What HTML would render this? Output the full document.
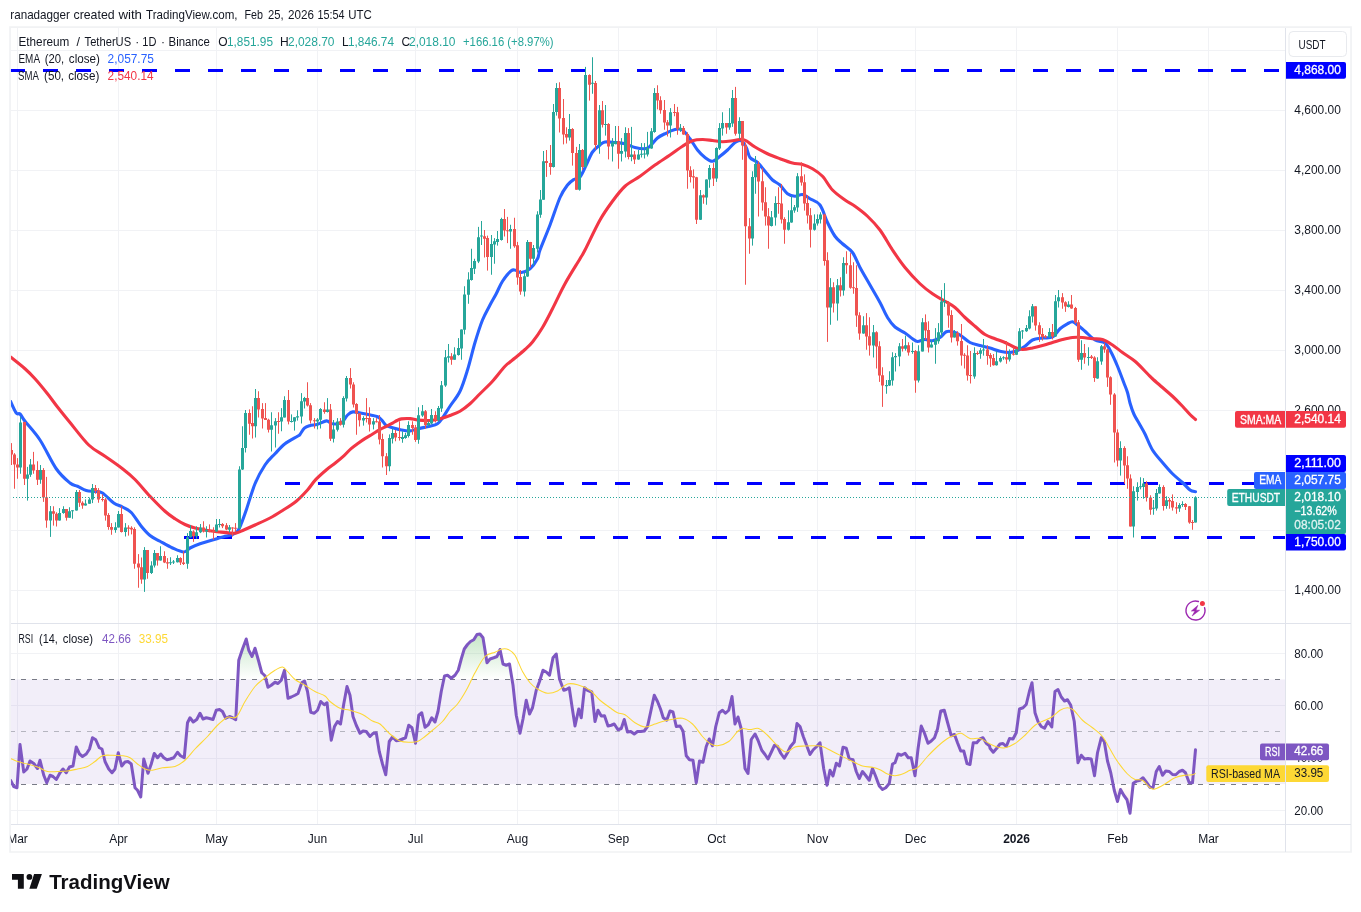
<!DOCTYPE html><html><head><meta charset="utf-8"><title>ETHUSDT chart</title>
<style>html,body{margin:0;padding:0;background:#fff;}svg{display:block}text{font-family:"Liberation Sans", "DejaVu Sans", sans-serif;}</style></head><body>
<svg width="1361" height="912" viewBox="0 0 1361 912">
<defs>
<clipPath id="cm"><rect x="10.5" y="27.5" width="1275" height="596"/></clipPath>
<clipPath id="cr"><rect x="10.5" y="624" width="1275" height="200"/></clipPath>
<clipPath id="ct"><rect x="10.5" y="824" width="1275" height="28"/></clipPath>
<linearGradient id="gg" x1="0" y1="0" x2="0" y2="1" gradientUnits="userSpaceOnUse"><stop offset="0" stop-color="#4caf50" stop-opacity="1"/><stop offset="1" stop-color="#4caf50" stop-opacity="0"/></linearGradient>
</defs>
<rect width="1361" height="912" fill="#fff"/>
<path d="M17.5 28V824M118.5 28V824M216.5 28V824M317.5 28V824M415.5 28V824M517.5 28V824M618.5 28V824M716.5 28V824M817.5 28V824M915.5 28V824M1016.5 28V824M1117.5 28V824M1208.5 28V824M11 50.5H1285M11 110.5H1285M11 170.5H1285M11 230.5H1285M11 290.5H1285M11 350.5H1285M11 410.5H1285M11 470.5H1285M11 530.5H1285M11 590.5H1285M11 653.5H1285M11 705.5H1285M11 758.5H1285M11 810.5H1285" stroke="#f1f2f5" stroke-width="1" fill="none"/>
<g clip-path="url(#cm)">
<path d="M10 70.5H1285" stroke="#0000ff" stroke-width="3" stroke-dasharray="15 18" fill="none"/>
<path d="M285 483.5H1285" stroke="#0000ff" stroke-width="3" stroke-dasharray="15 18" fill="none"/>
<path d="M184 537.5H1285" stroke="#0000ff" stroke-width="3" stroke-dasharray="15 18" fill="none"/>
<path d="M10.5 401.25C11.46 403.21 14.67 410.88 16.25 413C17.83 415.12 18.54 412.62 20 414C21.46 415.38 21.67 416.92 25 421.25C28.33 425.58 34.79 432.08 40 440C45.21 447.92 51.25 461.58 56.25 468.75C61.25 475.92 66.46 480.08 70 483C73.54 485.92 74.79 485 77.5 486.25C80.21 487.5 83.33 489.62 86.25 490.5C89.17 491.38 92.29 491.08 95 491.5C97.71 491.92 99.38 491.08 102.5 493C105.62 494.92 110.42 500.67 113.75 503C117.08 505.33 119.58 505.42 122.5 507C125.42 508.58 128.12 509.29 131.25 512.5C134.38 515.71 138.12 522.42 141.25 526.25C144.38 530.08 146.88 533 150 535.5C153.12 538 156.25 539.17 160 541.25C163.75 543.33 168.54 546.21 172.5 548C176.46 549.79 180.83 552 183.75 552C186.67 552 187.29 549.38 190 548C192.71 546.62 196.25 545.08 200 543.75C203.75 542.42 208.33 541.25 212.5 540C216.67 538.75 221.67 537.17 225 536.25C228.33 535.33 230.42 535.33 232.5 534.5C234.58 533.67 236.04 533.04 237.5 531.25C238.96 529.46 239.79 527.29 241.25 523.75C242.71 520.21 243.96 516.67 246.25 510C248.54 503.33 251.88 491.25 255 483.75C258.12 476.25 261.67 470 265 465C268.33 460 271.67 457.29 275 453.75C278.33 450.21 281.25 446.67 285 443.75C288.75 440.83 295 437.81 297.5 436.25C300 434.69 298.85 435.74 300 434.4C301.15 433.06 302.78 429.65 304.4 428.2C306.02 426.75 307.5 426.37 309.7 425.7C311.9 425.03 314.8 425 317.6 424.2C320.4 423.4 324.28 421.03 326.5 420.9C328.72 420.77 329.32 422.88 330.9 423.4C332.48 423.92 334.1 424.23 336 424C337.9 423.77 340.37 423.5 342.3 422C344.23 420.5 345.83 416.68 347.6 415C349.37 413.32 350.55 412.2 352.9 411.9C355.25 411.6 358.77 412.68 361.7 413.2C364.63 413.72 367.85 414.41 370.5 415C373.15 415.59 375.68 415.87 377.6 416.75C379.52 417.63 380.53 418.82 382 420.3C383.47 421.78 384.63 424.35 386.4 425.6C388.17 426.85 390.1 427.07 392.6 427.8C395.1 428.53 398.47 429.48 401.4 430C404.33 430.52 407.52 431.11 410.2 430.9C412.88 430.69 414.2 429.52 417.5 428.75C420.8 427.98 426.67 427.08 430 426.25C433.33 425.42 435.42 425.12 437.5 423.75C439.58 422.38 440.42 420.92 442.5 418C444.58 415.08 447.08 410.71 450 406.25C452.92 401.79 457.08 397.29 460 391.25C462.92 385.21 465 378.12 467.5 370C470 361.88 472.5 350.83 475 342.5C477.5 334.17 480 326.25 482.5 320C485 313.75 487.71 309.38 490 305C492.29 300.62 494.17 297.71 496.25 293.75C498.33 289.79 500 285.08 502.5 281.25C505 277.42 508.96 272.54 511.25 270.75C513.54 268.96 514.58 270.21 516.25 270.5C517.92 270.79 518.96 272.79 521.25 272.5C523.54 272.21 527.29 271.04 530 268.75C532.71 266.46 535.83 261.88 537.5 258.75C539.17 255.62 537.92 255.62 540 250C542.08 244.38 546.67 233.75 550 225C553.33 216.25 557.08 204.17 560 197.5C562.92 190.83 565.21 188 567.5 185C569.79 182 571.67 180.83 573.75 179.5C575.83 178.17 577.92 179.42 580 177C582.08 174.58 584.17 169.17 586.25 165C588.33 160.83 590.21 155.33 592.5 152C594.79 148.67 597.92 146.67 600 145C602.08 143.33 602.5 142.42 605 142C607.5 141.58 611.67 142.21 615 142.5C618.33 142.79 621.67 142.92 625 143.75C628.33 144.58 631.67 146.67 635 147.5C638.33 148.33 642.5 148.96 645 148.75C647.5 148.54 647.92 148.04 650 146.25C652.08 144.46 655 140.08 657.5 138C660 135.92 662.08 135.17 665 133.75C667.92 132.33 672.08 130.12 675 129.5C677.92 128.88 680 128.46 682.5 130C685 131.54 687.5 135.42 690 138.75C692.5 142.08 695 146.88 697.5 150C700 153.12 702.5 155.62 705 157.5C707.5 159.38 710 161.46 712.5 161.25C715 161.04 717.5 158.12 720 156.25C722.5 154.38 725 152.29 727.5 150C730 147.71 732.71 144.04 735 142.5C737.29 140.96 739.38 139.92 741.25 140.75C743.12 141.58 744.79 144.71 746.25 147.5C747.71 150.29 748.12 155 750 157.5C751.88 160 755 160.21 757.5 162.5C760 164.79 762.5 168.33 765 171.25C767.5 174.17 770 177.71 772.5 180C775 182.29 777.5 182.71 780 185C782.5 187.29 785 191.88 787.5 193.75C790 195.62 792.5 196.12 795 196.25C797.5 196.38 800 194.08 802.5 194.5C805 194.92 807.08 197 810 198.75C812.92 200.5 817.08 201.04 820 205C822.92 208.96 825 217.29 827.5 222.5C830 227.71 832.5 232.71 835 236.25C837.5 239.79 839.58 241.04 842.5 243.75C845.42 246.46 849.58 248.54 852.5 252.5C855.42 256.46 857.08 262.08 860 267.5C862.92 272.92 866.67 279.17 870 285C873.33 290.83 877.08 297.08 880 302.5C882.92 307.92 885 313.42 887.5 317.5C890 321.58 892.08 324.42 895 327C897.92 329.58 902.08 331.04 905 333C907.92 334.96 910.42 337.33 912.5 338.75C914.58 340.17 915.42 341.38 917.5 341.5C919.58 341.62 922.5 339.62 925 339.5C927.5 339.38 930 341.08 932.5 340.75C935 340.42 937.71 339 940 337.5C942.29 336 944.17 332.71 946.25 331.75C948.33 330.79 950.21 331.21 952.5 331.75C954.79 332.29 957.08 333.21 960 335C962.92 336.79 966.67 340.75 970 342.5C973.33 344.25 976.67 344.58 980 345.5C983.33 346.42 986.67 347.04 990 348C993.33 348.96 996.67 350.5 1000 351.25C1003.33 352 1007.08 352.62 1010 352.5C1012.92 352.38 1015 351.54 1017.5 350.5C1020 349.46 1022.5 348 1025 346.25C1027.5 344.5 1029.58 341.38 1032.5 340C1035.42 338.62 1039.17 338.5 1042.5 338C1045.83 337.5 1049.58 338.54 1052.5 337C1055.42 335.46 1057.5 330.96 1060 328.75C1062.5 326.54 1065.42 324.92 1067.5 323.75C1069.58 322.58 1070.83 321.54 1072.5 321.75C1074.17 321.96 1075.42 323.42 1077.5 325C1079.58 326.58 1082.08 328.75 1085 331.25C1087.92 333.75 1091.67 338.02 1095 340C1098.33 341.98 1102.29 341.02 1105 343.1C1107.71 345.18 1109.17 348.64 1111.25 352.5C1113.33 356.36 1115.42 361.25 1117.5 366.25C1119.58 371.25 1122.08 378.12 1123.75 382.5C1125.42 386.88 1126.46 389.08 1127.5 392.5C1128.54 395.92 1128.96 399.46 1130 403C1131.04 406.54 1132.08 410.08 1133.75 413.75C1135.42 417.42 1138.12 421.62 1140 425C1141.88 428.38 1142.92 429.83 1145 434C1147.08 438.17 1149.58 445.25 1152.5 450C1155.42 454.75 1159.17 458.54 1162.5 462.5C1165.83 466.46 1169.17 470.42 1172.5 473.75C1175.83 477.08 1179.58 479.79 1182.5 482.5C1185.42 485.21 1187.83 488.46 1190 490C1192.17 491.54 1194.58 491.46 1195.5 491.75" stroke="#2962ff" stroke-width="3.1" fill="none" stroke-linejoin="round" stroke-linecap="round"/>
<path d="M10.5 357C12.92 358.96 20.92 365.12 25 368.75C29.08 372.38 31.25 374.58 35 378.75C38.75 382.92 43.75 389.04 47.5 393.75C51.25 398.46 53.75 402.21 57.5 407C61.25 411.79 64.79 416.17 70 422.5C75.21 428.83 82.92 439.38 88.75 445C94.58 450.62 99.38 452.29 105 456.25C110.62 460.21 117.5 464.88 122.5 468.75C127.5 472.62 130.42 474.92 135 479.5C139.58 484.08 145 490.96 150 496.25C155 501.54 160.83 507.5 165 511.25C169.17 515 171.67 516.54 175 518.75C178.33 520.96 181.67 522.96 185 524.5C188.33 526.04 191.25 527 195 528C198.75 529 203.33 529.83 207.5 530.5C211.67 531.17 216.25 531.58 220 532C223.75 532.42 227.29 532.83 230 533C232.71 533.17 233.96 533.5 236.25 533C238.54 532.5 240.62 531.33 243.75 530C246.88 528.67 250.62 527 255 525C259.38 523 265.42 520.42 270 518C274.58 515.58 278.12 513.29 282.5 510.5C286.88 507.71 292.08 504.67 296.25 501.25C300.42 497.83 304.23 493.64 307.5 490C310.77 486.36 312.73 482.78 315.9 479.4C319.07 476.02 323.27 472.43 326.5 469.7C329.73 466.97 332.37 465.35 335.3 463C338.23 460.65 341.47 458 344.1 455.6C346.73 453.2 348.75 450.67 351.1 448.6C353.45 446.53 355.83 444.9 358.2 443.2C360.57 441.5 362.95 439.9 365.3 438.4C367.65 436.9 369.95 435.63 372.3 434.2C374.65 432.77 377.05 431.12 379.4 429.8C381.75 428.48 384.2 427.4 386.4 426.3C388.6 425.2 390.83 424.17 392.6 423.2C394.37 422.23 395.53 421.22 397 420.5C398.47 419.78 399.2 419.22 401.4 418.9C403.6 418.58 407.4 418.4 410.2 418.6C413 418.8 414.9 419.78 418.2 420.1C421.5 420.42 426.37 420.73 430 420.5C433.63 420.27 436.67 419.58 440 418.75C443.33 417.92 446.67 416.75 450 415.5C453.33 414.25 456.67 413.21 460 411.25C463.33 409.29 466.67 406.67 470 403.75C473.33 400.83 476.25 397.5 480 393.75C483.75 390 488.33 385.83 492.5 381.25C496.67 376.67 501.25 370.12 505 366.25C508.75 362.38 511.67 360.79 515 358C518.33 355.21 522.08 352.17 525 349.5C527.92 346.83 529.58 345.67 532.5 342C535.42 338.33 539.17 333.04 542.5 327.5C545.83 321.96 548.75 316.04 552.5 308.75C556.25 301.46 560.42 292.08 565 283.75C569.58 275.42 576.67 264.38 580 258.75C583.33 253.12 581.67 256.46 585 250C588.33 243.54 595.42 228.12 600 220C604.58 211.88 608.33 206.88 612.5 201.25C616.67 195.62 620.42 190.42 625 186.25C629.58 182.08 635 179.79 640 176.25C645 172.71 650 168.54 655 165C660 161.46 665.42 158.12 670 155C674.58 151.88 678.75 148.62 682.5 146.25C686.25 143.88 689.17 141.88 692.5 140.75C695.83 139.62 699.17 139.54 702.5 139.5C705.83 139.46 709.17 140.12 712.5 140.5C715.83 140.88 719.17 141.71 722.5 141.75C725.83 141.79 729.38 141.17 732.5 140.75C735.62 140.33 738.96 139.25 741.25 139.25C743.54 139.25 743.96 139.46 746.25 140.75C748.54 142.04 751.46 144.83 755 147C758.54 149.17 763.33 151.79 767.5 153.75C771.67 155.71 775.83 157.21 780 158.75C784.17 160.29 788.75 162.04 792.5 163C796.25 163.96 799.17 163.54 802.5 164.5C805.83 165.46 809.17 166.79 812.5 168.75C815.83 170.71 819.17 172.71 822.5 176.25C825.83 179.79 828.75 186.04 832.5 190C836.25 193.96 841.25 197.29 845 200C848.75 202.71 851.25 203.54 855 206.25C858.75 208.96 863.33 212.29 867.5 216.25C871.67 220.21 875.83 224.38 880 230C884.17 235.62 888.33 243.75 892.5 250C896.67 256.25 900.42 261.88 905 267.5C909.58 273.12 915.42 279.38 920 283.75C924.58 288.12 928.33 290.83 932.5 293.75C936.67 296.67 941.25 298.96 945 301.25C948.75 303.54 951.67 304.79 955 307.5C958.33 310.21 961.67 314.38 965 317.5C968.33 320.62 971.67 323.42 975 326.25C978.33 329.08 981.67 332.42 985 334.5C988.33 336.58 991.67 337.42 995 338.75C998.33 340.08 1001.67 341.04 1005 342.5C1008.33 343.96 1012.08 346.33 1015 347.5C1017.92 348.67 1019.58 349.42 1022.5 349.5C1025.42 349.58 1029.17 348.67 1032.5 348C1035.83 347.33 1039.17 346.42 1042.5 345.5C1045.83 344.58 1049.17 343.5 1052.5 342.5C1055.83 341.5 1059.17 340.33 1062.5 339.5C1065.83 338.67 1069.17 337.83 1072.5 337.5C1075.83 337.17 1079.17 337.29 1082.5 337.5C1085.83 337.71 1089.17 338.42 1092.5 338.75C1095.83 339.08 1099.17 338.46 1102.5 339.5C1105.83 340.54 1109.17 342.83 1112.5 345C1115.83 347.17 1118.75 349.79 1122.5 352.5C1126.25 355.21 1130.83 357.71 1135 361.25C1139.17 364.79 1144.58 370.83 1147.5 373.75C1150.42 376.67 1150 376.46 1152.5 378.75C1155 381.04 1159.17 384.58 1162.5 387.5C1165.83 390.42 1169.17 393.12 1172.5 396.25C1175.83 399.38 1179.58 403.21 1182.5 406.25C1185.42 409.29 1187.83 412.29 1190 414.5C1192.17 416.71 1194.58 418.67 1195.5 419.5" stroke="#f23645" stroke-width="3.1" fill="none" stroke-linejoin="round" stroke-linecap="round"/>
<path d="M1195.5 496.25V522.5M1182.5 501.25V506.88M1179.5 503.12V511.88M1166.5 496.25V508.75M1159.5 484.38V493.5M1156.5 489V510.62M1153.5 500V514.75M1143.5 478.12V498.75M1140.5 477.25V489.38M1137.5 482.25V500.62M1133.5 486.25V537.5M1120.5 441.25V475.62M1101.5 345V364.75M1097.5 357.25V378.75M1088.5 347.25V365.62M1081.5 340.25V369.75M1068.5 301.25V307.5M1058.5 290V307.5M1055.5 295V336.88M1049.5 328.12V337.5M1032.5 304V322.5M1029.5 310.25V329.38M1026.5 325V331.88M1022.5 330V338.75M1019.5 328.12V350M1016.5 349V355M1009.5 349.38V361.5M1003.5 356.25V359.75M1000.5 356.25V362.5M996.5 351.25V365.62M983.5 339V355.62M980.5 348.12V358.75M974.5 347.25V378.75M954.5 330V337.5M944.5 283.12V306.88M941.5 290V336.88M938.5 323.12V343.75M935.5 328.12V363.75M931.5 340.25V347.5M922.5 318.12V351.5M918.5 345.25V382.5M912.5 342.5V353.75M905.5 335.62V350.62M899.5 343.12V366.25M895.5 353.12V371.5M892.5 352.25V385.62M889.5 371.25V386M886.5 380V393.75M873.5 325V357.5M863.5 316.25V333.75M843.5 257.25V295.62M837.5 279V320.62M830.5 278.12V324.75M820.5 212.25V223.5M817.5 214.38V225.62M814.5 214.38V230.62M797.5 173.12V211.88M794.5 205V212.75M791.5 196.25V222.75M788.5 210.25V230.62M775.5 196.25V225.62M771.5 211V226.5M755.5 156V193.75M752.5 171.25V245.62M739.5 117.25V138.75M732.5 90V126.88M729.5 108.12V129.75M722.5 112.25V135.62M719.5 123.12V150M716.5 147.25V181.88M709.5 165V187.75M706.5 179.38V204.75M700.5 190V220M680.5 124V131.88M670.5 108.12V137.5M654.5 88.12V132.75M651.5 128.12V148.75M647.5 131.88V156.5M644.5 143.12V158.5M641.5 143.12V157.5M638.5 150V159.75M631.5 126.88V161.25M625.5 127.25V157.5M621.5 138.12V161.5M615.5 126V144.38M612.5 138.12V161.5M605.5 105V135.62M599.5 105V153.75M592.5 57.25V93.75M585.5 66.88V167.5M579.5 144V190.62M569.5 114V140.62M556.5 83.12V115.62M553.5 104V167.5M543.5 151V199.75M540.5 190V217.75M537.5 211.25V252.5M533.5 245V265.62M527.5 240V276.88M524.5 272.25V296.5M510.5 224.75V248.75M501.5 217.75V240.62M497.5 231V245.62M494.5 238.12V263.75M491.5 235V274.75M481.5 221V245M478.5 226.88V263.12M474.5 258.75V274M471.5 248.75V280.62M468.5 272.25V303.75M464.5 286.25V334.38M461.5 329.38V359.75M458.5 338.12V355.62M454.5 347.25V359.75M448.5 344V362.5M445.5 350V386.88M441.5 381V411.88M438.5 406V421.88M431.5 409V424.38M428.5 421.25V426.5M422.5 405V416.88M418.5 407.25V443.75M408.5 421.25V437.5M405.5 432.75V438.75M402.5 431.25V442.75M392.5 428.5V443.5M389.5 434.38V471.25M373.5 418.12V429.38M363.5 416.25V425.62M346.5 376V401.5M343.5 396.25V427.5M337.5 418.12V431.5M333.5 420V442.5M327.5 398.12V412.5M320.5 408.12V428.5M317.5 418.12V429.38M304.5 396.88V408.5M301.5 393.12V423.5M297.5 410.25V420.62M294.5 417.25V430.62M291.5 414.38V422.5M284.5 396.25V417.5M281.5 408.12V431.25M275.5 418.12V447.5M271.5 412.25V451.5M255.5 389V437.5M245.5 410V452.5M242.5 426.25V470M239.5 466.25V528.5M229.5 525V532.5M219.5 519V527.5M216.5 519V531.88M206.5 526.25V537.5M200.5 524V533.12M196.5 526.25V538.75M190.5 525.25V537.5M187.5 533.12V568.75M177.5 555.25V562.5M173.5 560V564M170.5 557.25V565M160.5 546.25V560.62M154.5 550V567.5M151.5 561.25V574M144.5 547.12V591.88M125.5 523.12V536.5M118.5 511V527.5M115.5 522.25V532.75M92.5 484V503.12M89.5 497.5V503.75M85.5 499.38V505.62M76.5 490V510.62M72.5 510.25V518.75M69.5 507.25V517.75M63.5 506.25V513.75M59.5 508.12V520.62M50.5 506V536.88M40.5 465V483.75M30.5 459V476.88M27.5 466.88V500.62M20.5 416.88V473.75" stroke="#26a69a" stroke-width="1" fill="none"/>
<path d="M1192.5 520V529.75M1189.5 506V523.75M1185.5 503.12V510M1176.5 502.25V513.75M1172.5 494.38V510.62M1169.5 498.12V508.75M1163.5 485.25V510.62M1150.5 495.25V514.75M1146.5 481.25V501.5M1130.5 474.38V526.5M1127.5 456.25V488.75M1124.5 446.25V483.75M1117.5 429.38V466.5M1114.5 393.12V462.5M1110.5 376.25V404.75M1107.5 348.75V386.88M1104.5 343.12V352.75M1094.5 356.25V381.88M1091.5 355V359M1084.5 344V363.75M1078.5 320V361.88M1075.5 306.88V323.75M1071.5 295V308.75M1065.5 301.25V311.88M1062.5 293.12V308.75M1052.5 324V339.38M1045.5 335V338.12M1042.5 328.12V340.62M1039.5 322.25V341.88M1035.5 306.25V330.62M1013.5 347.25V355.62M1006.5 341V363.75M993.5 354V365.62M990.5 353.12V366.88M987.5 345.25V364.75M977.5 351.25V355M970.5 351V383.5M967.5 345.25V380.62M964.5 353.12V368.5M961.5 324V365.62M957.5 331.25V345.62M951.5 310.25V342.5M948.5 301.25V327.75M928.5 321.25V352.5M925.5 314.38V340M915.5 350V392.75M908.5 342.25V355.62M902.5 339V351.5M882.5 367.25V406.88M879.5 341.25V381.88M876.5 331.25V368.5M869.5 317.25V355.62M866.5 313.12V349.75M859.5 312.25V339.75M856.5 265.25V326.88M853.5 262.25V293.75M850.5 253.12V288.75M846.5 251.25V273.75M840.5 277.25V296.5M833.5 282.25V312.5M827.5 252.25V341.88M824.5 213.75V265.62M810.5 208.12V247.5M807.5 195V223.5M804.5 174.38V210.62M801.5 162.25V185.62M784.5 217.25V243.75M781.5 184V223.5M778.5 187.25V213.75M768.5 208.12V248.75M765.5 187.25V225.62M762.5 168.12V210.62M758.5 161.25V216.5M749.5 218.12V253.75M745.5 142.5V284.75M742.5 121V159.75M735.5 86.88V135.62M726.5 123.12V133.75M713.5 163.12V186M703.5 194.38V203.75M696.5 176.88V224M693.5 169.38V188.5M690.5 166.25V182.5M687.5 132.25V188.75M683.5 126V134.75M677.5 106.88V134.75M674.5 104V116.25M667.5 120V136.5M664.5 100V129.75M660.5 96.25V113.75M657.5 85.25V109.38M634.5 151V164M628.5 128.12V159.38M618.5 126V168.75M608.5 123.12V159.38M602.5 101V127.5M595.5 81V149.38M589.5 74.38V100.62M582.5 149V170M576.5 146.88V189.75M572.5 128.12V165.62M566.5 127.25V143.5M563.5 99V144.38M559.5 82.25V132.5M550.5 145V174.75M546.5 150V176.88M530.5 241.88V267.5M520.5 270V294.75M517.5 241.88V284.75M514.5 217.75V247.75M507.5 216.88V243.12M504.5 209V236.5M487.5 235.62V270.62M484.5 230V257.5M451.5 353.12V364.75M435.5 411.25V422.5M425.5 410V428.75M415.5 425V441.88M412.5 421.25V434.75M399.5 421.25V440.62M395.5 430V441.25M386.5 453.12V475M382.5 433.75V467.5M379.5 415V444.38M376.5 418.12V422.5M369.5 407.25V431.5M366.5 398.12V422.5M359.5 413.12V426.5M356.5 403.12V434.75M353.5 382.25V407.5M350.5 368.12V388.5M340.5 418.12V425.62M330.5 404V441M324.5 402.25V413.75M314.5 418.12V428.5M310.5 403.12V423.5M307.5 382.25V406.5M288.5 390V424.38M278.5 412.25V433.75M268.5 418.75V432.5M265.5 403.12V420M262.5 403.12V428.5M258.5 391.25V417.5M252.5 406.25V438.5M249.5 409.38V434.75M235.5 523.12V531.88M232.5 527.25V536.5M226.5 523.12V530.25M222.5 523.12V528.12M213.5 527.25V539.75M209.5 524.38V532.25M203.5 521.25V532.5M193.5 530.25V541.88M183.5 551.25V565M180.5 557.25V565M167.5 558.12V568.75M164.5 551.25V563.12M157.5 553.12V565.62M147.5 550V578.75M141.5 557.5V583.75M138.5 554.12V587.75M134.5 527.25V568.75M131.5 526.25V534.38M128.5 525.25V535.62M121.5 506.25V532.5M111.5 523.12V534.75M108.5 513.12V529.75M105.5 498.12V520.62M102.5 494.38V501.5M98.5 488.12V502.75M95.5 485V493.75M82.5 501.25V508.75M79.5 490V506.88M66.5 509V520.62M56.5 512.25V526.5M53.5 506.25V525.62M46.5 476.88V527.75M43.5 468.12V501.88M37.5 461.25V485M33.5 451.88V473.75M24.5 421.88V485M17.5 458.12V478.75M14.5 453.12V488.75M11.5 443.12V465" stroke="#ef5350" stroke-width="1" fill="none"/>
<path d="M1194 497.25h3V522.5h-3zM1181 504h3V505h-3zM1178 505h3V508.5h-3zM1165 500.25h3V506h-3zM1158 487.12h3V493.5h-3zM1155 493.12h3V508.5h-3zM1152 507.75h3V508.75h-3zM1142 483.5h3V487.12h-3zM1139 486.25h3V487.25h-3zM1136 486.88h3V491.88h-3zM1132 491.25h3V526.5h-3zM1119 448.12h3V460.62h-3zM1100 346.25h3V361.5h-3zM1096 361.25h3V378.5h-3zM1087 356.88h3V357.88h-3zM1080 353.12h3V359.75h-3zM1067 304.38h3V306.88h-3zM1057 297.25h3V301.25h-3zM1054 301.25h3V336.5h-3zM1048 332.12h3V337.25h-3zM1031 306.25h3V316.5h-3zM1028 316.25h3V328.5h-3zM1025 328.12h3V331.25h-3zM1021 330.62h3V331.62h-3zM1018 331.25h3V349.75h-3zM1015 349.38h3V354.75h-3zM1008 353.75h3V359.38h-3zM1002 357.25h3V358.25h-3zM999 358.12h3V361.5h-3zM995 361.25h3V365.25h-3zM982 349.38h3V350.62h-3zM979 350.25h3V353.75h-3zM973 353.12h3V376.5h-3zM953 333.12h3V337.5h-3zM943 301h3V302.25h-3zM940 301.5h3V332.5h-3zM937 332.25h3V341.25h-3zM934 340h3V344.75h-3zM930 344.38h3V347.5h-3zM921 322.25h3V351.5h-3zM917 351.25h3V380.62h-3zM911 351h3V352h-3zM904 345.25h3V348.75h-3zM898 346.25h3V356.5h-3zM894 356h3V357.25h-3zM891 357.25h3V380.62h-3zM888 380h3V385.62h-3zM885 385h3V386.25h-3zM872 332.25h3V345.62h-3zM862 325.25h3V333.5h-3zM842 263.12h3V290.62h-3zM836 285.25h3V303.5h-3zM829 287.25h3V307.5h-3zM819 214.38h3V219.38h-3zM816 219h3V223.5h-3zM813 223.5h3V229.75h-3zM796 176.25h3V207.5h-3zM793 207.25h3V210.62h-3zM790 210.25h3V222.5h-3zM787 222.25h3V229.75h-3zM774 203.12h3V217.5h-3zM770 217.25h3V226h-3zM754 164h3V177.25h-3zM751 176.88h3V238.5h-3zM738 121h3V133.75h-3zM731 98.12h3V123.5h-3zM728 123.12h3V127.5h-3zM721 123.12h3V128.5h-3zM718 128.12h3V148.5h-3zM715 148.12h3V178.5h-3zM708 168.12h3V179.38h-3zM705 179.38h3V197.5h-3zM699 195.25h3V219.75h-3zM679 128.12h3V130h-3zM669 112.25h3V125.62h-3zM653 93.12h3V131.88h-3zM650 131.25h3V148.5h-3zM646 148.12h3V154.38h-3zM643 153.5h3V154.5h-3zM640 153.75h3V154.75h-3zM637 154.38h3V159.38h-3zM630 154.38h3V156.88h-3zM624 133.12h3V151.5h-3zM620 151h3V153.75h-3zM614 141.62h3V144h-3zM611 142.5h3V146.5h-3zM604 124h3V125h-3zM598 110.25h3V145h-3zM591 82.75h3V83.75h-3zM584 75h3V166.88h-3zM578 150h3V189.75h-3zM568 129h3V137.5h-3zM555 88.12h3V112.12h-3zM552 112.12h3V166.88h-3zM542 161.25h3V199.75h-3zM539 199.38h3V214.75h-3zM536 214.38h3V248.75h-3zM532 248.12h3V258.75h-3zM526 241.88h3V276.5h-3zM523 276.25h3V291.5h-3zM509 229h3V231.5h-3zM500 219h3V240h-3zM496 239h3V241.88h-3zM493 241.25h3V244.38h-3zM490 244h3V256.88h-3zM480 235.62h3V236.62h-3zM477 237.25h3V261.5h-3zM473 261h3V268.75h-3zM470 268.12h3V280h-3zM467 279.38h3V294.75h-3zM463 294.38h3V329.75h-3zM460 329.38h3V348.5h-3zM457 348.12h3V355h-3zM453 354.38h3V359.75h-3zM447 356.25h3V357.75h-3zM444 357.25h3V385.62h-3zM440 385.25h3V408.5h-3zM437 408.12h3V420.25h-3zM430 415h3V423.5h-3zM427 423.12h3V425h-3zM421 411.25h3V415.62h-3zM417 415.25h3V439.75h-3zM407 425h3V436h-3zM404 435.25h3V438.12h-3zM401 436.88h3V439h-3zM391 433.12h3V438.75h-3zM388 438.12h3V466.25h-3zM372 421.25h3V424.38h-3zM362 418.12h3V420.62h-3zM345 378.12h3V398.5h-3zM342 398.12h3V424.75h-3zM336 421.5h3V429.75h-3zM332 429.38h3V438.75h-3zM326 409.38h3V411.88h-3zM319 409h3V419.75h-3zM316 419.38h3V421.5h-3zM303 398.12h3V401.62h-3zM300 401.25h3V416.5h-3zM296 416.25h3V417.5h-3zM293 417.25h3V421.5h-3zM290 421h3V422h-3zM283 400h3V417.5h-3zM280 417.25h3V421.5h-3zM274 421.25h3V425.62h-3zM270 425.25h3V429.75h-3zM254 398.12h3V426.25h-3zM244 413.12h3V448.12h-3zM241 448.12h3V469.38h-3zM238 469.38h3V528.5h-3zM228 527.25h3V529.75h-3zM218 524h3V525h-3zM215 524.38h3V531.5h-3zM205 530h3V531.5h-3zM199 527.5h3V532.25h-3zM195 532.25h3V536.25h-3zM189 531h3V537.25h-3zM186 537.25h3V563.75h-3zM176 558.12h3V562.25h-3zM172 561.62h3V562.62h-3zM169 562.25h3V563.25h-3zM159 556h3V560.62h-3zM153 553.12h3V565.62h-3zM150 565.62h3V573.12h-3zM143 550h3V579.62h-3zM124 527.5h3V531.88h-3zM117 514h3V527.5h-3zM114 527.25h3V530h-3zM91 488.12h3V499.38h-3zM88 499.38h3V503.75h-3zM84 503.5h3V505.62h-3zM75 491.88h3V510.62h-3zM71 510.25h3V511.25h-3zM68 511.25h3V517.75h-3zM62 509h3V513.12h-3zM58 513.12h3V520.62h-3zM49 511.25h3V520.62h-3zM39 470h3V479.75h-3zM29 464.38h3V474.75h-3zM26 474.38h3V478.75h-3zM19 422.5h3V467.5h-3z" fill="#26a69a"/>
<path d="M1191 521.88h3V522.88h-3zM1188 506.25h3V522.5h-3zM1184 504h3V506.88h-3zM1175 507.25h3V508.5h-3zM1171 501h3V507.5h-3zM1168 500h3V501.5h-3zM1162 487.12h3V506h-3zM1149 497.5h3V509.75h-3zM1145 483.5h3V497.5h-3zM1129 478.5h3V526.5h-3zM1126 465.25h3V478.5h-3zM1123 448.12h3V465.62h-3zM1116 432.5h3V460.62h-3zM1113 394.38h3V432.5h-3zM1109 377.25h3V394.38h-3zM1106 349.38h3V377.5h-3zM1103 346.25h3V349.38h-3zM1093 357.5h3V378.12h-3zM1090 356.5h3V358.12h-3zM1083 353.12h3V357.5h-3zM1077 322.25h3V359.75h-3zM1074 308.12h3V322.5h-3zM1070 304.38h3V308.5h-3zM1064 302.25h3V306.5h-3zM1061 297.25h3V302.5h-3zM1051 332.12h3V336.5h-3zM1044 336.5h3V337.5h-3zM1041 334h3V336.88h-3zM1038 325.25h3V334.38h-3zM1034 306.25h3V325.62h-3zM1012 353.75h3V354.75h-3zM1005 357.25h3V359.38h-3zM992 358.12h3V365.25h-3zM989 355h3V358.5h-3zM986 349.38h3V356h-3zM976 353.12h3V354.12h-3zM969 375h3V376h-3zM966 355.62h3V375.62h-3zM963 354.75h3V355.75h-3zM960 341h3V355.62h-3zM956 333.12h3V341.25h-3zM950 315h3V337.5h-3zM947 301.88h3V315.62h-3zM927 330h3V347.5h-3zM924 322.25h3V330.62h-3zM914 351h3V380.62h-3zM907 345.25h3V352.5h-3zM901 346.25h3V348.75h-3zM881 375.25h3V385.62h-3zM878 346.25h3V375.62h-3zM875 332.25h3V346.5h-3zM868 336.25h3V345.62h-3zM865 325.25h3V336.5h-3zM858 315.25h3V333.5h-3zM855 288.12h3V315.62h-3zM852 287.25h3V288.25h-3zM849 265.25h3V287.75h-3zM845 263.12h3V265.25h-3zM839 285.25h3V290.62h-3zM832 287.25h3V303.5h-3zM826 260.25h3V307.5h-3zM823 214.38h3V261h-3zM809 215.25h3V229.75h-3zM806 203.12h3V215.62h-3zM803 182.25h3V203.5h-3zM800 176.25h3V182.5h-3zM783 219h3V229.75h-3zM780 203.5h3V219.38h-3zM777 203.12h3V204.12h-3zM767 216.25h3V225.62h-3zM764 202.25h3V216.5h-3zM761 181.25h3V202.5h-3zM757 164h3V181.5h-3zM748 226.25h3V238.5h-3zM744 145.62h3V226.25h-3zM741 121h3V145.62h-3zM734 98.12h3V133.75h-3zM725 123.12h3V127.5h-3zM712 168.12h3V178.5h-3zM702 195.25h3V197.5h-3zM695 177.25h3V219.75h-3zM692 176.25h3V177.5h-3zM689 170.25h3V176.88h-3zM686 134h3V170.62h-3zM682 128.12h3V134.38h-3zM676 112.25h3V128.75h-3zM673 111.88h3V112.88h-3zM666 122.25h3V125.62h-3zM663 110h3V122.5h-3zM659 100.25h3V110.25h-3zM656 93.12h3V100.62h-3zM633 154.38h3V159.38h-3zM627 133.12h3V156.88h-3zM617 141.25h3V153.75h-3zM607 124h3V146.5h-3zM601 110.25h3V124.75h-3zM594 83.12h3V145h-3zM588 75h3V84.75h-3zM581 150h3V166.88h-3zM575 153.12h3V189.75h-3zM571 129h3V153.12h-3zM565 134h3V137.5h-3zM562 118.12h3V134.38h-3zM558 88.12h3V118.5h-3zM549 163.12h3V166.88h-3zM545 161h3V163.12h-3zM529 241.88h3V258.75h-3zM519 276.88h3V291.5h-3zM516 245.25h3V277.5h-3zM513 229h3V246.25h-3zM506 230.25h3V231.25h-3zM503 219h3V230.62h-3zM486 238.12h3V256.88h-3zM483 236.25h3V238.75h-3zM450 356.25h3V359.75h-3zM434 415h3V420.25h-3zM424 411.25h3V425h-3zM414 427.5h3V440h-3zM411 425h3V428.12h-3zM398 436.88h3V437.88h-3zM394 433.12h3V437.5h-3zM385 456.25h3V466.25h-3zM381 439h3V456.25h-3zM378 421.5h3V439.38h-3zM375 421.25h3V422.25h-3zM368 418.12h3V424.38h-3zM365 418.12h3V419.12h-3zM358 413.5h3V420.25h-3zM355 404h3V413.5h-3zM352 384.38h3V404.38h-3zM349 378.12h3V384.38h-3zM339 421.25h3V424.75h-3zM329 409.38h3V438.75h-3zM323 409.38h3V411.88h-3zM313 420.25h3V421.25h-3zM309 405.25h3V420.62h-3zM306 398.12h3V405.62h-3zM287 400h3V421.5h-3zM277 421h3V422h-3zM267 419.75h3V429.75h-3zM264 418.12h3V420h-3zM261 409h3V418.5h-3zM257 398.12h3V409.38h-3zM251 423.12h3V426.25h-3zM248 413.12h3V423.75h-3zM234 527.75h3V528.75h-3zM231 527.5h3V528.5h-3zM225 525.25h3V529.38h-3zM221 524h3V526.25h-3zM212 531h3V532h-3zM208 530.25h3V531.5h-3zM202 527.5h3V531.5h-3zM192 531.5h3V536.25h-3zM182 562.5h3V564h-3zM179 558.12h3V562.5h-3zM166 562.25h3V563.5h-3zM163 556h3V562.5h-3zM156 553.12h3V560.62h-3zM146 550h3V573.12h-3zM140 567.25h3V579.62h-3zM137 563.5h3V567.5h-3zM133 529h3V563.75h-3zM130 527.75h3V529.38h-3zM127 527.5h3V528.75h-3zM120 514h3V531.88h-3zM110 526.88h3V529.75h-3zM107 515h3V526.88h-3zM104 499.38h3V515.62h-3zM101 499h3V500h-3zM97 490.62h3V499.38h-3zM94 488.12h3V491h-3zM81 502.75h3V505.62h-3zM78 491.88h3V502.75h-3zM65 509h3V517.75h-3zM55 513.75h3V520.62h-3zM52 511.25h3V513.75h-3zM45 497.25h3V520.62h-3zM42 470h3V497.5h-3zM36 470h3V479.75h-3zM32 464.38h3V470.62h-3zM23 421.88h3V478.75h-3zM16 464.38h3V467.5h-3zM13 454.38h3V464.38h-3zM10 450h3V454.38h-3z" fill="#ef5350"/>
<path d="M10 497.5H1227" stroke="#26a69a" stroke-width="1" stroke-dasharray="1 2" fill="none"/>
</g>
<g clip-path="url(#cr)">
<rect x="10" y="679.42" width="1275.5" height="104.68" fill="#7e57c2" fill-opacity="0.1"/>
<path d="M10 679.5H1281" stroke="#787b86" stroke-width="1.1" stroke-dasharray="5 6" fill="none"/>
<path d="M10 784.5H1281" stroke="#787b86" stroke-width="1.1" stroke-dasharray="5 6" fill="none"/>
<path d="M10 731.5H1281" stroke="#787b86" stroke-opacity="0.5" stroke-width="1.1" stroke-dasharray="5 6" fill="none"/>
<linearGradient id="g1" x1="0" y1="600.91" x2="0" y2="679.42" gradientUnits="userSpaceOnUse"><stop offset="0" stop-color="#4caf50" stop-opacity="0.55"/><stop offset="1" stop-color="#4caf50" stop-opacity="0"/></linearGradient>
<linearGradient id="g2" x1="0" y1="784.1" x2="0" y2="862.61" gradientUnits="userSpaceOnUse"><stop offset="0" stop-color="#ff5252" stop-opacity="0"/><stop offset="1" stop-color="#ff5252" stop-opacity="0.55"/></linearGradient>
<path d="M237.78 679.42L238.75 660.25L242.5 649L246.25 639L248.75 650.25L252 656.5L255 648.25L258.75 661.5L261.75 672.75L265 675.75L265.96 679.42z" fill="url(#g1)"/>
<path d="M281.52 679.42L284.5 670.25L285.65 679.42z" fill="url(#g1)"/>
<path d="M443.78 679.42L444.5 676L447.5 675.25L451.25 678.25L455 675.25L458.25 670.25L461.25 659L464.25 649L467.5 644.5L470.5 641.5L473.75 639.75L477 634.5L480 634L483 637.75L487 662.75L490 659L493.75 657.75L497 656.5L500 649.5L503 664L506.25 665.25L509.5 664L512.04 679.42z" fill="url(#g1)"/>
<path d="M540.15 679.42L543 670.25L546.25 672L549.5 675.25L553 657.75L556.25 654L559.5 679L559.66 679.42z" fill="url(#g1)"/>
<path d="M12.5 784.1L13.75 786.5L17 787.75L17.25 784.1z" fill="url(#g2)"/>
<path d="M134.42 784.1L135 787.75L137.5 790.25L140.75 797L141.77 784.1z" fill="url(#g2)"/>
<path d="M826.77 784.1L827 785.25L827.23 784.1z" fill="url(#g2)"/>
<path d="M878.55 784.1L879.25 786L882.5 789.5L885.75 787.75L888.76 784.1z" fill="url(#g2)"/>
<path d="M1113.02 784.1L1114.25 790.25L1117.5 801.5L1120.5 789.5L1123.75 795.25L1127 799.75L1130 813.25L1133.16 784.1z" fill="url(#g2)"/>
<path d="M1147.72 784.1L1150 787.25L1153 787.75L1153.73 784.1z" fill="url(#g2)"/>
<path d="M10.5 780.25L13.75 786.5L17 787.75L20 744.5L23.75 772L27 769L30 761L33.75 763.5L37.5 768.5L40 760.25L43.75 775.25L46.75 782.75L50 775.25L53 776.5L56.25 779.5L60 772.75L63 769L66.25 772.75L69.5 767L73 766L76.25 747L79.5 754L82.5 756.5L86.25 754L89.5 749L92.5 737.75L95.75 739.75L99.25 747.75L102 749L105 761.5L108.75 769L112 772.75L115 769L118.25 752.75L121.75 766L125 762L128 761.5L131.25 764L135 787.75L137.5 790.25L140.75 797L143.75 759L148 773.25L151.25 764L154.25 753.5L157.5 757.75L160.75 754L163.75 757.75L167 759.75L170 759L173.75 757.75L177.5 752.25L180.5 755.75L184.25 757.75L187.5 722.75L190 717.75L193.25 722L196.75 719.5L200 713.25L203 719L206.25 717.75L209.5 718.5L213 719.5L216.25 710.25L219.5 709.5L222.5 711.5L225.75 718.25L229.5 716.5L232.5 717.75L235.75 719.75L238.75 660.25L242.5 649L246.25 639L248.75 650.25L252 656.5L255 648.25L258.75 661.5L261.75 672.75L265 675.75L268 687.25L271.25 685.25L275 682.25L278 683.5L281.25 680.25L284.5 670.25L288 698.25L291.25 697L295 695.25L298 693.5L301.75 682.75L304.5 681L307.5 691.5L310.75 712.25L314.25 713.25L317.5 710.25L320.75 701.5L324.25 704.75L327 702.75L331.25 740.25L334.5 726.5L337.5 721.5L340.5 724L343.75 704L347 686.5L350 695.25L353 716.5L356.25 725.25L360 733.25L363 731L366.25 731.5L370 736.5L373 733.5L376.25 732.75L379.25 751.5L382.5 764L385.75 774.75L389.25 741.5L392.5 737L396.25 740.75L399.5 740.25L402.5 739L405.5 737.75L408.75 725.25L412 727.75L415.5 743.25L418.75 715.25L421.75 712.75L425 727.25L428.25 724.75L431.75 717.75L435 722L438 711.5L441.25 691.5L444.5 676L447.5 675.25L451.25 678.25L455 675.25L458.25 670.25L461.25 659L464.25 649L467.5 644.5L470.5 641.5L473.75 639.75L477 634.5L480 634L483 637.75L487 662.75L490 659L493.75 657.75L497 656.5L500 649.5L503 664L506.25 665.25L509.5 664L513 685.25L516.25 715.25L520 733.25L523 719L526.25 700.25L529.5 714L532.5 707.75L536.25 690.25L539.5 681.5L543 670.25L546.25 672L549.5 675.25L553 657.75L556.25 654L559.5 679L563.75 690.25L566.25 689.5L569.25 687.75L572 706.5L575 726L578.75 709L581.25 717.75L584.5 687.75L587.5 690.25L591.75 692L595 721.5L598 710.25L601.25 716L604.5 715.75L608 726L611.25 725.25L614.25 724L618 729.75L621.25 728.5L624.25 719.5L627.5 732L630.75 731.5L634.25 734L637.5 731.5L640.75 731.5L644.25 731L647.5 726.5L650.75 711.5L654.25 695.25L657.5 701.5L660.5 709L663.25 717.75L666.75 720.25L670 711L673 712L676.25 726.5L680 726L683 731L686.25 755.75L689.5 759.75L693 760.25L696.25 782.75L699.5 761L703 762.25L706.25 746.5L709.25 739L712.5 745.75L715.75 726.5L719.25 712.75L722.5 710.25L725.5 713.25L728.75 710.25L732 696.5L735 724L738 717L741.25 729L745 768.5L748 773.5L751.25 739.5L755 734L758 740.25L761.75 750.25L765 754.5L768 759L771.25 752.25L774.5 745.25L777.5 746.5L780.75 753.25L784.25 758.25L787.5 752.75L790.5 746.5L794.25 742L797 723.5L800 726.5L803.25 736.5L806.75 745.75L810 754.5L813.25 749.75L816.75 746.5L820 742.75L823.75 769L827 785.25L830 770.25L833 776L836.25 763.25L839.5 766L843 747.25L846.25 748.25L849.25 759L853 759.75L856.25 771.5L859.25 778.5L862.5 771.5L865.5 775.25L869.25 780.25L872.5 768.5L875.75 776.5L879.25 786L882.5 789.5L885.75 787.75L889.25 783.5L892.5 764L895 762.75L898 754L901.25 755.25L905 753.25L908.25 757.75L911.25 757.75L915 775.75L918 749L921.25 726L924.5 733.25L928 743.25L931.25 741L934.5 737.75L937.5 729L940.75 711L944.25 710.25L947.5 722.25L951.25 735.75L954.5 734.5L957.5 742.75L960.75 751L963.75 751L967 763.5L970 764.5L973.25 742.75L976.75 742.75L980 739L983 737.75L986.25 743.25L989.5 745.75L990 748.25L993.25 752.25L996.75 748.25L1000 744L1003 743.5L1006.25 746.5L1009.5 738.5L1013 739L1016.25 732.75L1019.5 709L1023 707.75L1026.25 704.5L1029.5 691L1032 682.75L1035 712.75L1038 721.5L1041.25 726.5L1044.5 728.25L1048 721.5L1051.75 727L1055 691.5L1058 689.5L1061.25 697L1064.5 701L1067.5 699.75L1070.75 705.25L1074.25 721.5L1078 762.75L1081.25 755.25L1084.5 759L1088 758.5L1091.25 759L1094.5 775.75L1097.5 752.75L1101.25 737.75L1104.25 741.5L1107.5 761L1110.75 772.75L1114.25 790.25L1117.5 801.5L1120.5 789.5L1123.75 795.25L1127 799.75L1130 813.25L1133.25 783.25L1136.75 781L1140 780.25L1143 777.75L1146.75 782.75L1150 787.25L1153 787.75L1156.25 771.5L1159.25 766.5L1162.5 775.25L1165.75 771L1169.25 771.5L1172.5 774.5L1175.75 774.75L1179.25 771.5L1182.5 770.25L1185.5 772.75L1189.25 782.75L1192.5 782.75L1195.5 749.75" stroke="#7e57c2" stroke-width="3" fill="none" stroke-linejoin="round" stroke-linecap="round"/>
<path d="M10.5 758.5C11.67 759 14.67 760.58 17.5 761.5C20.33 762.42 24.17 763.08 27.5 764C30.83 764.92 34.17 765.75 37.5 767C40.83 768.25 44.17 770.75 47.5 771.5C50.83 772.25 54.17 771.58 57.5 771.5C60.83 771.42 64.17 771.42 67.5 771C70.83 770.58 74.17 769.75 77.5 769C80.83 768.25 84.58 767.75 87.5 766.5C90.42 765.25 92.5 763.29 95 761.5C97.5 759.71 99.58 756.79 102.5 755.75C105.42 754.71 109.17 755.25 112.5 755.25C115.83 755.25 119.58 755.33 122.5 755.75C125.42 756.17 127.5 756.38 130 757.75C132.5 759.12 135 762.12 137.5 764C140 765.88 142.5 767.96 145 769C147.5 770.04 149.58 770.46 152.5 770.25C155.42 770.04 158.75 768.38 162.5 767.75C166.25 767.12 171.25 767.75 175 766.5C178.75 765.25 181.67 763.17 185 760.25C188.33 757.33 191.25 752.96 195 749C198.75 745.04 203.75 740.46 207.5 736.5C211.25 732.54 214.17 728.46 217.5 725.25C220.83 722.04 224.38 718.62 227.5 717.25C230.62 715.88 233.33 719.62 236.25 717C239.17 714.38 241.88 706.58 245 701.5C248.12 696.42 251.67 690.46 255 686.5C258.33 682.54 261.67 680.46 265 677.75C268.33 675.04 272.08 672.04 275 670.25C277.92 668.46 280.42 666.79 282.5 667C284.58 667.21 285.42 669.42 287.5 671.5C289.58 673.58 292.08 677.21 295 679.5C297.92 681.79 301.67 683.25 305 685.25C308.33 687.25 311.67 689.71 315 691.5C318.33 693.29 322.5 694.33 325 696C327.5 697.67 327.5 699.46 330 701.5C332.5 703.54 336.67 706.79 340 708.25C343.33 709.71 346.25 709.21 350 710.25C353.75 711.29 358.75 712.71 362.5 714.5C366.25 716.29 369.58 719.42 372.5 721C375.42 722.58 377.08 721.83 380 724C382.92 726.17 386.67 731.17 390 734C393.33 736.83 396.67 739.62 400 741C403.33 742.38 407.08 742.17 410 742.25C412.92 742.33 415 742.46 417.5 741.5C420 740.54 422.5 738.38 425 736.5C427.5 734.62 429.58 732.75 432.5 730.25C435.42 727.75 439.58 724.62 442.5 721.5C445.42 718.38 447.5 714.42 450 711.5C452.5 708.58 454.79 707.54 457.5 704C460.21 700.46 463.33 695.46 466.25 690.25C469.17 685.04 471.88 678.38 475 672.75C478.12 667.12 481.67 659.92 485 656.5C488.33 653.08 492.08 653.5 495 652.25C497.92 651 500.21 649.42 502.5 649C504.79 648.58 506.67 648.71 508.75 649.75C510.83 650.79 512.71 651.62 515 655.25C517.29 658.88 520 666.92 522.5 671.5C525 676.08 527.5 679.83 530 682.75C532.5 685.67 534.58 687.25 537.5 689C540.42 690.75 544.17 692.92 547.5 693.25C550.83 693.58 554.17 692.54 557.5 691C560.83 689.46 564.17 685.04 567.5 684C570.83 682.96 573.75 683.71 577.5 684.75C581.25 685.79 586.25 687.67 590 690.25C593.75 692.83 596.67 697.33 600 700.25C603.33 703.17 607.08 705.67 610 707.75C612.92 709.83 615 711.58 617.5 712.75C620 713.92 622.08 713.08 625 714.75C627.92 716.42 631.67 720.71 635 722.75C638.33 724.79 641.67 726.79 645 727C648.33 727.21 652.5 724.79 655 724C657.5 723.21 657.5 722.96 660 722.25C662.5 721.54 666.25 720.42 670 719.75C673.75 719.08 678.75 717.54 682.5 718.25C686.25 718.96 689.17 720.96 692.5 724C695.83 727.04 699.58 733.25 702.5 736.5C705.42 739.75 707.5 741.96 710 743.5C712.5 745.04 714.38 746.08 717.5 745.75C720.62 745.42 725.42 743.88 728.75 741.5C732.08 739.12 735.21 733.67 737.5 731.5C739.79 729.33 740.42 728.83 742.5 728.5C744.58 728.17 747.29 729.5 750 729.5C752.71 729.5 755.83 727.54 758.75 728.5C761.67 729.46 764.38 732.38 767.5 735.25C770.62 738.12 774.38 742.96 777.5 745.75C780.62 748.54 783.33 751.79 786.25 752C789.17 752.21 791.88 748 795 747C798.12 746 801.67 746.21 805 746C808.33 745.79 812.08 745.67 815 745.75C817.92 745.83 819.17 745.33 822.5 746.5C825.83 747.67 830.42 750.46 835 752.75C839.58 755.04 845.42 758.04 850 760.25C854.58 762.46 858.75 764.83 862.5 766C866.25 767.17 869.58 766.62 872.5 767.25C875.42 767.88 877.5 768.62 880 769.75C882.5 770.88 885 773 887.5 774C890 775 892.29 775.83 895 775.75C897.71 775.67 901.25 774.42 903.75 773.5C906.25 772.58 907.71 771.21 910 770.25C912.29 769.29 914.58 770.04 917.5 767.75C920.42 765.46 924.17 760.04 927.5 756.5C930.83 752.96 934.17 749.5 937.5 746.5C940.83 743.5 944.58 740.38 947.5 738.5C950.42 736.62 952.71 736.12 955 735.25C957.29 734.38 958.75 732.71 961.25 733.25C963.75 733.79 966.88 737.62 970 738.5C973.12 739.38 976.67 737.58 980 738.5C983.33 739.42 987.08 742.58 990 744C992.92 745.42 995 746.38 997.5 747C1000 747.62 1002.08 748.33 1005 747.75C1007.92 747.17 1011.67 745.58 1015 743.5C1018.33 741.42 1021.67 738.29 1025 735.25C1028.33 732.21 1031.67 727.75 1035 725.25C1038.33 722.75 1042.08 721.71 1045 720.25C1047.92 718.79 1050 718.17 1052.5 716.5C1055 714.83 1057.5 711.71 1060 710.25C1062.5 708.79 1065.21 707.75 1067.5 707.75C1069.79 707.75 1071.25 708.17 1073.75 710.25C1076.25 712.33 1079.38 717.33 1082.5 720.25C1085.62 723.17 1089.17 725.04 1092.5 727.75C1095.83 730.46 1099.58 732.96 1102.5 736.5C1105.42 740.04 1107.5 744.83 1110 749C1112.5 753.17 1114.58 757.33 1117.5 761.5C1120.42 765.67 1124.58 771 1127.5 774C1130.42 777 1132.5 778.46 1135 779.5C1137.5 780.54 1140 778.88 1142.5 780.25C1145 781.62 1147.92 786.29 1150 787.75C1152.08 789.21 1152.5 789.62 1155 789C1157.5 788.38 1161.67 785.88 1165 784C1168.33 782.12 1171.67 779.21 1175 777.75C1178.33 776.29 1182.08 775.75 1185 775.25C1187.92 774.75 1190.75 775.08 1192.5 774.75C1194.25 774.42 1195 773.5 1195.5 773.25" stroke="#fdd835" stroke-width="1.05" fill="none" stroke-linejoin="round"/>
</g>
<path d="M10.05 27.05H1351.05V852H10.05z" stroke="#f1f2f4" stroke-width="1.7" fill="none"/>
<path d="M1285.5 28V852M11 623.5H1351M11 824.5H1351" stroke="#e0e3eb" stroke-width="1" fill="none"/>
<text x="10.3" y="18.6" font-size="13" fill="#131722" textLength="59.6" lengthAdjust="spacingAndGlyphs">ranadagger</text>
<text x="73.5" y="18.6" font-size="13" fill="#131722" textLength="41.1" lengthAdjust="spacingAndGlyphs">created</text>
<text x="118.4" y="18.6" font-size="13" fill="#131722" textLength="23.6" lengthAdjust="spacingAndGlyphs">with</text>
<text x="146.1" y="18.6" font-size="13" fill="#131722" textLength="91.4" lengthAdjust="spacingAndGlyphs">TradingView.com,</text>
<text x="244.5" y="18.6" font-size="13" fill="#131722" textLength="18.5" lengthAdjust="spacingAndGlyphs">Feb</text>
<text x="268" y="18.6" font-size="13" fill="#131722" textLength="15.6" lengthAdjust="spacingAndGlyphs">25,</text>
<text x="288" y="18.6" font-size="13" fill="#131722" textLength="25.9" lengthAdjust="spacingAndGlyphs">2026</text>
<text x="317.4" y="18.6" font-size="13" fill="#131722" textLength="27.1" lengthAdjust="spacingAndGlyphs">15:54</text>
<text x="348.3" y="18.6" font-size="13" fill="#131722" textLength="23.5" lengthAdjust="spacingAndGlyphs">UTC</text>
<text x="18.5" y="45.9" font-size="12" fill="#131722" textLength="50.9" lengthAdjust="spacingAndGlyphs">Ethereum</text>
<text x="78.2" y="45.9" font-size="12.5" fill="#131722" text-anchor="middle">/</text>
<text x="84.6" y="45.9" font-size="12" fill="#131722" textLength="46.5" lengthAdjust="spacingAndGlyphs">TetherUS</text>
<text x="137.2" y="45.9" font-size="12" fill="#131722" text-anchor="middle">·</text>
<text x="142.3" y="45.9" font-size="12" fill="#131722" textLength="14.1" lengthAdjust="spacingAndGlyphs">1D</text>
<text x="163.1" y="45.9" font-size="12" fill="#131722" text-anchor="middle">·</text>
<text x="168.6" y="45.9" font-size="12" fill="#131722" textLength="41.2" lengthAdjust="spacingAndGlyphs">Binance</text>
<text x="218.3" y="45.9" font-size="12" fill="#131722">O</text>
<text x="227" y="45.9" font-size="12" fill="#26a69a" textLength="46" lengthAdjust="spacingAndGlyphs">1,851.95</text>
<text x="280" y="45.9" font-size="12" fill="#131722">H</text>
<text x="288" y="45.9" font-size="12" fill="#26a69a" textLength="46.5" lengthAdjust="spacingAndGlyphs">2,028.70</text>
<text x="342" y="45.9" font-size="12" fill="#131722">L</text>
<text x="348" y="45.9" font-size="12" fill="#26a69a" textLength="46" lengthAdjust="spacingAndGlyphs">1,846.74</text>
<text x="401.5" y="45.9" font-size="12" fill="#131722">C</text>
<text x="409" y="45.9" font-size="12" fill="#26a69a" textLength="46.5" lengthAdjust="spacingAndGlyphs">2,018.10</text>
<text x="463" y="45.9" font-size="12" fill="#26a69a" textLength="90.5" lengthAdjust="spacingAndGlyphs">+166.16 (+8.97%)</text>
<text x="18.5" y="63.2" font-size="12" fill="#131722" textLength="21.5" lengthAdjust="spacingAndGlyphs">EMA</text>
<text x="44.7" y="63.2" font-size="12" fill="#131722" textLength="19.4" lengthAdjust="spacingAndGlyphs">(20,</text>
<text x="68.8" y="63.2" font-size="12" fill="#131722" textLength="31.1" lengthAdjust="spacingAndGlyphs">close)</text>
<text x="107.6" y="63.2" font-size="12" fill="#2962ff" textLength="46.3" lengthAdjust="spacingAndGlyphs">2,057.75</text>
<text x="18" y="80.4" font-size="12" fill="#131722" textLength="20.8" lengthAdjust="spacingAndGlyphs">SMA</text>
<text x="44.1" y="80.4" font-size="12" fill="#131722" textLength="20" lengthAdjust="spacingAndGlyphs">(50,</text>
<text x="68.2" y="80.4" font-size="12" fill="#131722" textLength="31.1" lengthAdjust="spacingAndGlyphs">close)</text>
<text x="107.6" y="80.4" font-size="12" fill="#f23645" textLength="46" lengthAdjust="spacingAndGlyphs">2,540.14</text>
<text x="18.5" y="642.5" font-size="12" fill="#131722" textLength="14.6" lengthAdjust="spacingAndGlyphs">RSI</text>
<text x="39" y="642.5" font-size="12" fill="#131722" textLength="18.8" lengthAdjust="spacingAndGlyphs">(14,</text>
<text x="62.75" y="642.5" font-size="12" fill="#131722" textLength="30.3" lengthAdjust="spacingAndGlyphs">close)</text>
<text x="102.1" y="642.5" font-size="12" fill="#7e57c2" textLength="28.9" lengthAdjust="spacingAndGlyphs">42.66</text>
<text x="138.75" y="642.5" font-size="12" fill="#fdd835" textLength="29.3" lengthAdjust="spacingAndGlyphs">33.95</text>
<text x="1294.3" y="114.2" font-size="12" fill="#131722" textLength="46.5" lengthAdjust="spacingAndGlyphs">4,600.00</text>
<text x="1294.3" y="174.2" font-size="12" fill="#131722" textLength="46.5" lengthAdjust="spacingAndGlyphs">4,200.00</text>
<text x="1294.3" y="234.2" font-size="12" fill="#131722" textLength="46.5" lengthAdjust="spacingAndGlyphs">3,800.00</text>
<text x="1294.3" y="294.2" font-size="12" fill="#131722" textLength="46.5" lengthAdjust="spacingAndGlyphs">3,400.00</text>
<text x="1294.3" y="354.2" font-size="12" fill="#131722" textLength="46.5" lengthAdjust="spacingAndGlyphs">3,000.00</text>
<text x="1294.3" y="414.2" font-size="12" fill="#131722" textLength="46.5" lengthAdjust="spacingAndGlyphs">2,600.00</text>
<text x="1294.3" y="594.2" font-size="12" fill="#131722" textLength="46.5" lengthAdjust="spacingAndGlyphs">1,400.00</text>
<text x="1294.3" y="657.5" font-size="12" fill="#131722" textLength="29" lengthAdjust="spacingAndGlyphs">80.00</text>
<text x="1294.3" y="709.5" font-size="12" fill="#131722" textLength="29" lengthAdjust="spacingAndGlyphs">60.00</text>
<text x="1294.3" y="762" font-size="12" fill="#131722" textLength="29" lengthAdjust="spacingAndGlyphs">40.00</text>
<text x="1294.3" y="814.5" font-size="12" fill="#131722" textLength="29" lengthAdjust="spacingAndGlyphs">20.00</text>
<rect x="1289" y="31.5" width="57.5" height="25" rx="4" fill="#fff" stroke="#e8eaee"/>
<text x="1298.5" y="48.5" font-size="12" fill="#131722" textLength="27" lengthAdjust="spacingAndGlyphs">USDT</text>
<path d="M1286 62H1344a2 2 0 0 1 2 2V76.7a2 2 0 0 1 -2 2H1286z" fill="#0000ff"/>
<text x="1294.3" y="73.8" font-size="12" fill="#fff" textLength="46.5" lengthAdjust="spacingAndGlyphs" stroke="#fff" stroke-width="0.3">4,868.00</text>
<path d="M1285 411H1237a2 2 0 0 0 -2 2V425.8a2 2 0 0 0 2 2H1285z" fill="#f23645"/>
<path d="M1286 411H1344a2 2 0 0 1 2 2V425.8a2 2 0 0 1 -2 2H1286z" fill="#f23645"/>
<text x="1240" y="423.6" font-size="12" fill="#fff" textLength="41.3" lengthAdjust="spacingAndGlyphs" stroke="#fff" stroke-width="0.3">SMA:MA</text>
<text x="1294.3" y="422.8" font-size="12" fill="#fff" textLength="46.5" lengthAdjust="spacingAndGlyphs" stroke="#fff" stroke-width="0.3">2,540.14</text>
<path d="M1286 455H1344a2 2 0 0 1 2 2V470a2 2 0 0 1 -2 2H1286z" fill="#0000ff"/>
<text x="1294.3" y="467" font-size="12" fill="#fff" textLength="46.5" lengthAdjust="spacingAndGlyphs" stroke="#fff" stroke-width="0.3">2,111.00</text>
<path d="M1285 472H1256a2 2 0 0 0 -2 2V487a2 2 0 0 0 2 2H1285z" fill="#2962ff"/>
<path d="M1286 472H1344a2 2 0 0 1 2 2V487a2 2 0 0 1 -2 2H1286z" fill="#2962ff"/>
<text x="1259.2" y="484.4" font-size="12" fill="#fff" textLength="22" lengthAdjust="spacingAndGlyphs" stroke="#fff" stroke-width="0.3">EMA</text>
<text x="1294.3" y="483.6" font-size="12" fill="#fff" textLength="46.5" lengthAdjust="spacingAndGlyphs" stroke="#fff" stroke-width="0.3">2,057.75</text>
<path d="M1285 489H1229.2a2 2 0 0 0 -2 2V504a2 2 0 0 0 2 2H1285z" fill="#26a69a"/>
<path d="M1286 489H1344a2 2 0 0 1 2 2V532a2 2 0 0 1 -2 2H1286z" fill="#26a69a"/>
<text x="1231.8" y="501.6" font-size="12" fill="#fff" textLength="48.3" lengthAdjust="spacingAndGlyphs" stroke="#fff" stroke-width="0.3">ETHUSDT</text>
<text x="1294.3" y="500.8" font-size="12" fill="#fff" textLength="46.5" lengthAdjust="spacingAndGlyphs" stroke="#fff" stroke-width="0.3">2,018.10</text>
<text x="1294.3" y="514.8" font-size="12" fill="#fff" textLength="42.5" lengthAdjust="spacingAndGlyphs" stroke="#fff" stroke-width="0.3">−13.62%</text>
<text x="1294.3" y="528.5" font-size="12" fill="#fff" textLength="46.5" lengthAdjust="spacingAndGlyphs" fill-opacity="0.8" stroke="#fff" stroke-width="0.3" stroke-opacity="0.8">08:05:02</text>
<path d="M1286 534H1344a2 2 0 0 1 2 2V548.5a2 2 0 0 1 -2 2H1286z" fill="#0000ff"/>
<text x="1294.3" y="545.6" font-size="12" fill="#fff" textLength="46.5" lengthAdjust="spacingAndGlyphs" stroke="#fff" stroke-width="0.3">1,750.00</text>
<path d="M1285 743.5H1262a2 2 0 0 0 -2 2V758.3a2 2 0 0 0 2 2H1285z" fill="#7e57c2"/>
<path d="M1286 743.5H1327a2 2 0 0 1 2 2V758.3a2 2 0 0 1 -2 2H1286z" fill="#7e57c2"/>
<text x="1265" y="756" font-size="12" fill="#fff" textLength="15" lengthAdjust="spacingAndGlyphs" stroke="#fff" stroke-width="0.3">RSI</text>
<text x="1294.3" y="755.3" font-size="12" fill="#fff" textLength="29" lengthAdjust="spacingAndGlyphs" stroke="#fff" stroke-width="0.3">42.66</text>
<path d="M1285 765.3H1208.3a2 2 0 0 0 -2 2V780a2 2 0 0 0 2 2H1285z" fill="#fdd835"/>
<path d="M1286 765.3H1327a2 2 0 0 1 2 2V780a2 2 0 0 1 -2 2H1286z" fill="#fdd835"/>
<text x="1211" y="777.8" font-size="12" fill="#131722" textLength="69" lengthAdjust="spacingAndGlyphs">RSI-based MA</text>
<text x="1294.3" y="777.2" font-size="12" fill="#131722" textLength="29" lengthAdjust="spacingAndGlyphs">33.95</text>
<g clip-path="url(#ct)">
<text x="17.5" y="842.5" font-size="12" fill="#131722" text-anchor="middle">Mar</text>
<text x="118.5" y="842.5" font-size="12" fill="#131722" text-anchor="middle">Apr</text>
<text x="216.5" y="842.5" font-size="12" fill="#131722" text-anchor="middle">May</text>
<text x="317.5" y="842.5" font-size="12" fill="#131722" text-anchor="middle">Jun</text>
<text x="415.5" y="842.5" font-size="12" fill="#131722" text-anchor="middle">Jul</text>
<text x="517.5" y="842.5" font-size="12" fill="#131722" text-anchor="middle">Aug</text>
<text x="618.5" y="842.5" font-size="12" fill="#131722" text-anchor="middle">Sep</text>
<text x="716.5" y="842.5" font-size="12" fill="#131722" text-anchor="middle">Oct</text>
<text x="817.5" y="842.5" font-size="12" fill="#131722" text-anchor="middle">Nov</text>
<text x="915.5" y="842.5" font-size="12" fill="#131722" text-anchor="middle">Dec</text>
<text x="1016.5" y="842.5" font-size="12" fill="#131722" text-anchor="middle" font-weight="bold">2026</text>
<text x="1117.5" y="842.5" font-size="12" fill="#131722" text-anchor="middle">Feb</text>
<text x="1208.5" y="842.5" font-size="12" fill="#131722" text-anchor="middle">Mar</text>
</g>
<g transform="translate(1195.5,610.5)"><path d="M9.08 -2.78A9.5 9.5 0 1 1 2.94 -9.04" fill="none" stroke="#9c27b0" stroke-width="1.4" stroke-linecap="round"/><path d="M2.4 -5.2L-4.2 0.6H-0.6L-3.4 5.5L4.2 -0.3H0.5z" fill="#9c27b0" stroke="#9c27b0" stroke-width="0.5" stroke-linejoin="round"/></g>
<circle cx="1202.4" cy="603.4" r="2.5" fill="#f23645"/>
<g fill="#101014"><path d="M12 874h11.8v14.7h-5.9v-8.9h-5.9z"/><circle cx="29.4" cy="876.9" r="2.9"/><path d="M34.1 874h7.8l-5.2 14.7h-7.3z"/></g>
<text x="49.2" y="888.65" font-size="20.2" fill="#101014" font-weight="bold" textLength="120.5" lengthAdjust="spacingAndGlyphs">TradingView</text>
</svg></body></html>
